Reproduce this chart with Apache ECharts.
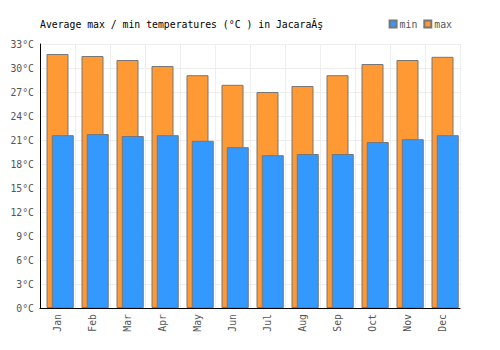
<!DOCTYPE html>
<html>
<head>
<meta charset="utf-8">
<script src="https://cdn.jsdelivr.net/npm/echarts@6/dist/echarts.min.js"></script>
<style>
    html, body { margin: 0; padding: 0; background: #fff; }
    #chart { width: 500px; height: 350px; }
</style>
</head>
<body>
<div id="chart"></div>
<script>
const months = ['Jan', 'Feb', 'Mar', 'Apr', 'May', 'Jun', 'Jul', 'Aug', 'Sep', 'Oct', 'Nov', 'Dec']
const maxTemps = [31.75, 31.5, 31.0, 30.25, 29.1, 27.9, 27.0, 27.75, 29.1, 30.5, 31.0, 31.4]
const minTemps = [21.6, 21.75, 21.5, 21.6, 20.9, 20.1, 19.1, 19.25, 19.25, 20.75, 21.1, 21.6]

const mono = '"DejaVu Sans Mono", monospace'
const gridColor = '#eeeeee'
const labelColor = '#555'

// svg renderer: rotated axis labels come out right with it
const chart = echarts.init(document.getElementById('chart'), null, { renderer: 'svg' })

chart.setOption({
    animation: false,
    title: {
        text: 'Average max / min temperatures (°C ) in JacaraĂş',
        left: 35,
        top: 14,
        textStyle: {
            fontFamily: mono,
            fontSize: 9.8,
            fontWeight: 'normal',
            color: '#000',
        },
    },
    legend: {
        data: ['min', 'max'],
        right: 43,
        top: 14,
        itemWidth: 7,
        itemHeight: 7,
        itemGap: 6,
        icon: 'rect',
        textStyle: {
            fontFamily: mono,
            fontSize: 9.8,
            color: labelColor,
            padding: [0, 0, 0, -2],
        },
    },
    grid: {
        left: 40,
        right: 40,
        top: 44,
        bottom: 42,
    },
    xAxis: {
        type: 'category',
        data: months,
        axisTick: { show: false },
        axisLine: { lineStyle: { color: '#000', width: 1 } },
        splitLine: {
            show: true,
            interval: 0,
            lineStyle: { color: gridColor },
        },
        axisLabel: {
            rotate: 90,
            interval: 0,
            margin: 6,
            fontFamily: mono,
            fontSize: 9.8,
            color: labelColor,
        },
    },
    yAxis: {
        type: 'value',
        min: 0,
        max: 33,
        interval: 3,
        axisTick: { show: false },
        axisLine: { show: true, lineStyle: { color: '#000', width: 1 } },
        splitLine: { lineStyle: { color: gridColor } },
        axisLabel: {
            formatter: '{value}°C',
            margin: 6,
            fontFamily: mono,
            fontSize: 9.8,
            color: labelColor,
        },
    },
    series: [
        {
            // empty slot so the pair sits off-centre like the original
            name: 'pad',
            type: 'bar',
            data: [],
            barWidth: 22,
            barGap: '-76%',
        },
        {
            name: 'max',
            type: 'bar',
            data: maxTemps,
            barWidth: 22,
            barGap: '-76%',
            itemStyle: { color: '#ff9933', borderColor: '#777', borderWidth: 1 },
        },
        {
            name: 'min',
            type: 'bar',
            data: minTemps,
            barWidth: 22,
            barGap: '-76%',
            itemStyle: { color: '#3399ff', borderColor: '#777', borderWidth: 1 },
        },
    ],
})
</script>
</body>
</html>
